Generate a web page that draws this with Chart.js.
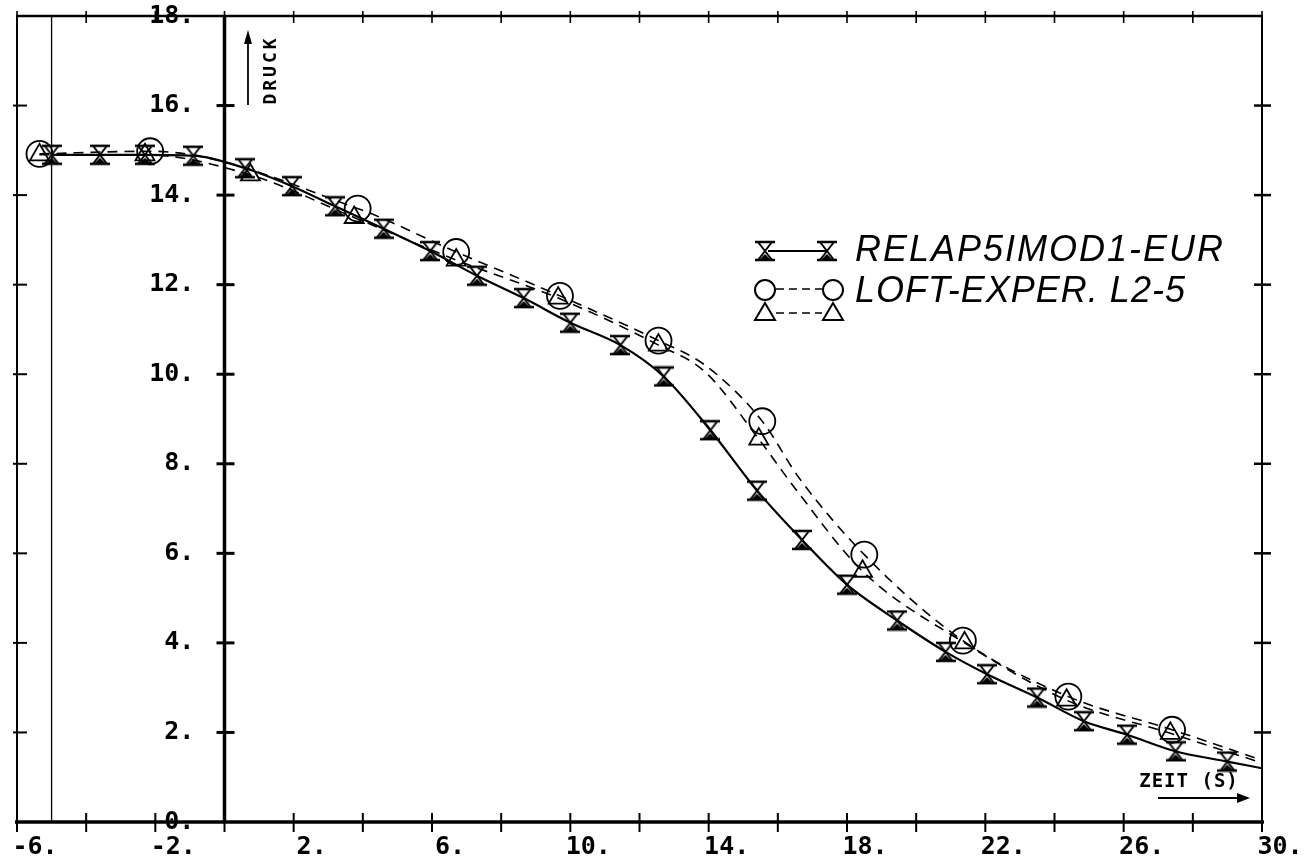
<!DOCTYPE html>
<html>
<head>
<meta charset="utf-8">
<script src="https://cdn.jsdelivr.net/npm/chart.js@4/dist/chart.umd.min.js"></script>
<style>
html, body { margin: 0; padding: 0; background: #fff; }
#wrap { width: 1307px; height: 863px; position: relative; }
</style>
</head>
<body>
<div id="wrap"><canvas id="druck"></canvas></div>
<script>
// ====== Daten (Zeit in s, Druck in MPa) ======
// RELAP5/MOD1-EUR Rechnung (Sanduhr-Marker, durchgezogen)
const relapT = [-5.0, -3.6, -2.3, -0.9, 0.6, 1.95, 3.2, 4.6, 5.95, 7.3, 8.65, 10.0, 11.45, 12.7, 14.05, 15.4, 16.7, 18.0, 19.45, 20.85, 22.05, 23.5, 24.85, 26.1, 27.5, 29.0];
const relapP = [14.9, 14.9, 14.9, 14.88, 14.6, 14.2, 13.75, 13.25, 12.75, 12.2, 11.7, 11.15, 10.65, 9.95, 8.75, 7.4, 6.3, 5.3, 4.5, 3.8, 3.3, 2.78, 2.25, 1.95, 1.58, 1.35];
// Kurvenende ohne Marker
const relapEndT = [30.0];
const relapEndP = [1.2];

// LOFT-Experiment L2-5, Kreise
const loftOT = [-5.35, -2.15, 3.85, 6.7, 9.7, 12.55, 15.55, 18.5, 21.35, 24.4, 27.4];
const loftOP = [14.92, 14.98, 13.7, 12.73, 11.75, 10.75, 8.95, 5.97, 4.05, 2.8, 2.06];
const loftOKurveT = [13.9, 16.6, 30.0];
const loftOKurveP = [10.2, 7.7, 1.38];

// LOFT-Experiment L2-5, Dreiecke
const loftAT = [-5.35, -2.3, 0.75, 3.75, 6.7, 9.65, 12.55, 15.45, 18.45, 21.4, 24.35, 27.35];
const loftAP = [14.9, 14.9, 14.45, 13.5, 12.55, 11.7, 10.65, 8.55, 5.6, 4.0, 2.72, 1.98];
const loftAKurveT = [13.9, 16.5, 30.0];
const loftAKurveP = [10.05, 7.45, 1.32];

// Achsen
const zeitMin = -6, zeitMax = 30, zeitSchritt = 2;
const druckMin = 0, druckMax = 18, druckSchritt = 2;

const legendeTexte = ['RELAP5IMOD1-EUR', 'LOFT-EXPER. L2-5'];

// ====== Hilfsfunktionen ======
function punkte(ts, ps) {
    return ts.map((t, i) => ({ x: t, y: ps[i] }));
}
function kurve(ts, ps, extraT, extraP) {
    return punkte(ts, ps).concat(punkte(extraT, extraP)).sort((a, b) => a.x - b.x);
}

// Sanduhr-Symbol als kleines Canvas
function sanduhr(w, h) {
    const c = document.createElement('canvas');
    c.width = w; c.height = h;
    const g = c.getContext('2d');
    g.strokeStyle = '#000';
    g.fillStyle = '#000';
    g.lineWidth = 2.6;
    g.beginPath();
    g.moveTo(0, 2); g.lineTo(w, 2);
    g.moveTo(0, h - 2); g.lineTo(w, h - 2);
    g.stroke();
    g.lineWidth = 2;
    g.beginPath();
    g.moveTo(3, 2); g.lineTo(w - 3, h - 2);
    g.moveTo(w - 3, 2); g.lineTo(3, h - 2);
    g.stroke();
    g.beginPath();
    g.moveTo(w / 2, h / 2 + 3);
    g.lineTo(4, h - 2);
    g.lineTo(w - 4, h - 2);
    g.closePath();
    g.fill();
    return c;
}
const sanduhrBild = sanduhr(20, 22);

// ====== Rahmen, Striche, Beschriftung ======
const rahmen = {
    id: 'rahmen',
    beforeDatasetsDraw(chart) {
        const { ctx, chartArea: a, scales: { x, y } } = chart;
        ctx.save();
        ctx.strokeStyle = '#000';
        const linie = (x1, y1, x2, y2, w) => {
            ctx.lineWidth = w;
            ctx.beginPath();
            ctx.moveTo(x1, y1);
            ctx.lineTo(x2, y2);
            ctx.stroke();
        };
        linie(a.left - 1, a.top, a.right + 1, a.top, 2.5);
        linie(a.left, a.top, a.left, a.bottom, 2);
        linie(a.right, a.top, a.right, a.bottom, 2);
        linie(a.left - 2, a.bottom, a.right + 2, a.bottom, 3.5);

        const x5 = x.getPixelForValue(-5);
        linie(x5, a.top, x5, a.bottom, 1.3);
        const x0 = x.getPixelForValue(0);
        linie(x0, a.top, x0, a.bottom, 3.5);

        x.ticks.forEach(t => {
            const px = x.getPixelForValue(t.value);
            linie(px, a.top - 5, px, a.top + 7, 1.6);
            linie(px, a.bottom - 9, px, a.bottom + 10, 2);
        });
        y.ticks.forEach(t => {
            if (t.value === druckMin || t.value === druckMax) return;
            const py = y.getPixelForValue(t.value);
            linie(a.left - 4, py, a.left + 10, py, 2);
            linie(x0 - 8, py, x0 + 10, py, 3);
            linie(a.right - 8, py, a.right + 9, py, 2.5);
        });
        ctx.restore();
    },
    afterDraw(chart) {
        const ctx = chart.ctx;
        ctx.save();
        ctx.fillStyle = '#000';
        ctx.strokeStyle = '#000';

        // DRUCK mit Pfeil nach oben
        ctx.lineWidth = 1.8;
        ctx.beginPath();
        ctx.moveTo(248, 105); ctx.lineTo(248, 38);
        ctx.stroke();
        ctx.beginPath();
        ctx.moveTo(248, 30); ctx.lineTo(244, 44); ctx.lineTo(252, 44);
        ctx.closePath(); ctx.fill();
        ctx.save();
        ctx.translate(271, 70);
        ctx.rotate(-Math.PI / 2);
        ctx.font = 'bold 18px "DejaVu Sans Mono"';
        ctx.letterSpacing = '3px';
        ctx.textAlign = 'center';
        ctx.textBaseline = 'middle';
        ctx.fillText('DRUCK', 0, 0);
        ctx.restore();

        // ZEIT (S) mit Pfeil nach rechts
        ctx.font = 'bold 19px "DejaVu Sans Mono"';
        ctx.letterSpacing = '1px';
        ctx.textAlign = 'center';
        ctx.textBaseline = 'middle';
        ctx.fillText('ZEIT (S)', 1189, 782);
        ctx.letterSpacing = '0px';
        ctx.lineWidth = 2;
        ctx.beginPath();
        ctx.moveTo(1158, 798); ctx.lineTo(1240, 798);
        ctx.stroke();
        ctx.beginPath();
        ctx.moveTo(1250, 798); ctx.lineTo(1237, 793); ctx.lineTo(1237, 803);
        ctx.closePath(); ctx.fill();

        // Legende
        ctx.lineWidth = 2;
        ctx.beginPath();
        ctx.moveTo(768, 251); ctx.lineTo(826, 251);
        ctx.stroke();
        ctx.drawImage(sanduhrBild, 755, 240);
        ctx.drawImage(sanduhrBild, 817, 240);

        ctx.lineWidth = 1.6;
        ctx.setLineDash([8, 5]);
        ctx.beginPath();
        ctx.moveTo(776, 289); ctx.lineTo(822, 289);
        ctx.moveTo(776, 313); ctx.lineTo(822, 313);
        ctx.stroke();
        ctx.setLineDash([]);
        ctx.lineWidth = 2;
        [765, 833].forEach(cx => {
            ctx.beginPath();
            ctx.arc(cx, 290, 10, 0, Math.PI * 2);
            ctx.stroke();
            ctx.beginPath();
            ctx.moveTo(cx, 303); ctx.lineTo(cx - 10, 320); ctx.lineTo(cx + 10, 320);
            ctx.closePath();
            ctx.stroke();
        });

        ctx.font = 'italic 36px "Liberation Sans"';
        ctx.textAlign = 'left';
        ctx.textBaseline = 'middle';
        const ziel = [368, 330];
        const zeilenY = [251, 292];
        legendeTexte.forEach((txt, i) => {
            ctx.letterSpacing = '0px';
            const w = ctx.measureText(txt).width;
            const sp = (ziel[i] - w) / (txt.length - 1);
            ctx.letterSpacing = sp.toFixed(2) + 'px';
            ctx.fillText(txt, 855, zeilenY[i]);
        });
        ctx.restore();
    }
};

// ====== Diagramm ======
const tickFont = { family: '"DejaVu Sans Mono"', size: 25, weight: 'bold' };

new Chart(document.getElementById('druck'), {
    type: 'line',
    data: {
        datasets: [
            {
                label: 'RELAP5IMOD1-EUR Marker',
                data: punkte(relapT, relapP),
                showLine: false,
                pointStyle: sanduhrBild,
                pointRadius: 10,
                order: 1
            },
            {
                label: 'LOFT O Marker',
                data: punkte(loftOT, loftOP),
                showLine: false,
                pointStyle: 'circle',
                pointRadius: 13,
                pointBorderWidth: 1.8,
                pointBorderColor: '#000',
                pointBackgroundColor: 'rgba(0,0,0,0)',
                order: 1
            },
            {
                label: 'LOFT A Marker',
                data: punkte(loftAT, loftAP),
                showLine: false,
                pointStyle: 'triangle',
                pointRadius: 11,
                pointBorderWidth: 1.8,
                pointBorderColor: '#000',
                pointBackgroundColor: 'rgba(0,0,0,0)',
                order: 1
            },
            {
                label: 'RELAP5IMOD1-EUR',
                data: kurve(relapT, relapP, relapEndT, relapEndP),
                borderColor: '#000',
                borderWidth: 2.2,
                pointRadius: 0,
                cubicInterpolationMode: 'monotone',
                order: 2
            },
            {
                label: 'LOFT O',
                data: kurve(loftOT, loftOP, loftOKurveT, loftOKurveP),
                borderColor: '#000',
                borderWidth: 1.6,
                borderDash: [10, 7],
                pointRadius: 0,
                cubicInterpolationMode: 'monotone',
                order: 2
            },
            {
                label: 'LOFT A',
                data: kurve(loftAT, loftAP, loftAKurveT, loftAKurveP),
                borderColor: '#000',
                borderWidth: 1.6,
                borderDash: [10, 7],
                pointRadius: 0,
                cubicInterpolationMode: 'monotone',
                order: 2
            }
        ]
    },
    options: {
        responsive: true,
        maintainAspectRatio: false,
        animation: false,
        events: [],
        layout: { padding: { left: 17, right: 45, top: 16, bottom: 0 } },
        plugins: {
            legend: { display: false },
            tooltip: { enabled: false }
        },
        scales: {
            x: {
                type: 'linear',
                position: 'bottom',
                min: zeitMin,
                max: zeitMax,
                grid: { display: false, drawTicks: false },
                border: { display: false },
                ticks: {
                    stepSize: zeitSchritt,
                    autoSkip: false,
                    maxRotation: 0,
                    padding: 10,
                    labelOffset: 18,
                    color: '#000',
                    font: tickFont,
                    callback: v => ((v - zeitMin) % 4 === 0 ? v + '.' : '')
                },
                afterFit: s => { s.height = 41; s.paddingLeft = 0; s.paddingRight = 0; }
            },
            y: {
                type: 'linear',
                position: { x: 0 },
                min: druckMin,
                max: druckMax,
                grid: { display: false, drawTicks: false },
                border: { display: false },
                ticks: {
                    stepSize: druckSchritt,
                    color: '#000',
                    font: tickFont,
                    callback: v => v + '.  '
                },
                afterFit: s => { s.paddingTop = 0; s.paddingBottom = 0; }
            }
        }
    },
    plugins: [rahmen]
});
</script>
</body>
</html>
